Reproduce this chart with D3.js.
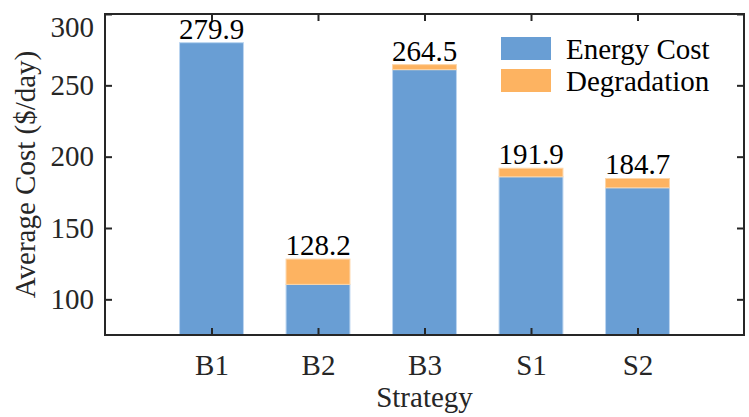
<!DOCTYPE html>
<meta charset="utf-8">
<style>
body { margin: 0; background: #fff; }
svg text { font-family: "Liberation Serif", "Times New Roman", serif; fill: #000; }
.axis path { display: none; }
.axis line { stroke: #262626; stroke-width: 2; }
.axis text { font-size: 29px; fill: #262626; }
</style>
<body>
<script src="https://d3js.org/d3.v7.min.js"></script>
<script>
// bar data
var strategies = ["B1", "B2", "B3", "S1", "S2"];
var energyCost = [279.9, 110.5, 261.0, 185.9, 178.2];
var degradation = [0.0, 17.7, 3.5, 6.0, 6.5];
var yTicks = [100, 150, 200, 250, 300];
var seriesNames = ["Energy Cost", "Degradation"];
var colors = ["#699ed4", "#fdb361"];

var margin = {top: 14, right: 5, bottom: 82, left: 105},
    width = 749 - margin.left - margin.right,
    height = 417 - margin.top - margin.bottom;

var svg = d3.select("body").append("svg")
    .attr("width", 749)
    .attr("height", 417)
  .append("g")
    .attr("transform", "translate(" + margin.left + "," + margin.top + ")");

var x = d3.scaleLinear()
    .domain([0, strategies.length + 1])
    .range([0, width]);

var y = d3.scaleLinear()
    .domain([75, 300])
    .range([height, 0]);

var barW = (x(1) - x(0)) * 0.6;

var data = strategies.map(function(s, i) {
  return {name: s, pos: i + 1, e: energyCost[i], d: degradation[i], total: energyCost[i] + degradation[i]};
});

// bars
var bars = svg.selectAll(".bar")
    .data(data)
  .enter().append("g")
    .attr("class", "bar");

bars.append("rect")
    .attr("x", function(d) { return x(d.pos) - barW / 2; })
    .attr("width", barW)
    .attr("y", function(d) { return y(d.e); })
    .attr("height", function(d) { return height - y(d.e); })
    .style("fill", colors[0])
    .style("stroke", "#bcd6f0")
    .style("stroke-width", 1);

bars.filter(function(d) { return d.d > 0; }).append("rect")
    .attr("x", function(d) { return x(d.pos) - barW / 2; })
    .attr("width", barW)
    .attr("y", function(d) { return y(d.total); })
    .attr("height", function(d) { return y(d.e) - y(d.total); })
    .style("fill", colors[1])
    .style("stroke", "#fdd6a8")
    .style("stroke-width", 1);

bars.append("text")
    .attr("x", function(d) { return x(d.pos); })
    .attr("y", function(d) { return y(d.total) - 4; })
    .attr("text-anchor", "middle")
    .style("font-size", "29px")
    .text(function(d) { return d.total.toFixed(1); });

// axes, ticks pointing inward on all four sides
var catTicks = data.map(function(d) { return d.pos; });

svg.append("g")
    .attr("class", "x axis")
    .attr("transform", "translate(0," + height + ")")
    .call(d3.axisBottom(x).tickValues(catTicks)
      .tickFormat(function(v) { return strategies[v - 1]; })
      .tickSizeInner(-7).tickSizeOuter(0).tickPadding(19));

svg.append("g")
    .attr("class", "x axis")
    .call(d3.axisTop(x).tickValues(catTicks).tickFormat("")
      .tickSizeInner(-7).tickSizeOuter(0));

var yAxisG = svg.append("g")
    .attr("class", "y axis")
    .call(d3.axisLeft(y).tickValues(yTicks)
      .tickSizeInner(-7).tickSizeOuter(0).tickPadding(11));

// top label sits a bit lower in the original
yAxisG.selectAll(".tick text")
    .filter(function(v) { return v === 300; })
    .attr("y", 13);

svg.append("g")
    .attr("class", "y axis")
    .attr("transform", "translate(" + width + ",0)")
    .call(d3.axisRight(y).tickValues(yTicks).tickFormat("")
      .tickSizeInner(-7).tickSizeOuter(0));

svg.append("rect")
    .attr("width", width)
    .attr("height", height)
    .style("fill", "none")
    .style("stroke", "#262626")
    .style("stroke-width", 2);

// axis labels
svg.append("text")
    .attr("x", width / 2)
    .attr("y", height + 72)
    .attr("text-anchor", "middle")
    .style("font-size", "29px")
    .style("fill", "#262626")
    .text("Strategy");

svg.append("text")
    .attr("transform", "rotate(-90)")
    .attr("x", -height / 2)
    .attr("y", 35 - margin.left)
    .attr("text-anchor", "middle")
    .style("font-size", "29px")
    .style("fill", "#262626")
    .text("Average Cost ($/day)");

// legend
var legend = svg.selectAll(".legend")
    .data(seriesNames)
  .enter().append("g")
    .attr("class", "legend")
    .attr("transform", function(d, i) { return "translate(396," + (23 + i * 32) + ")"; });

legend.append("rect")
    .attr("width", 50)
    .attr("height", 23)
    .style("fill", function(d, i) { return colors[i]; });

legend.append("text")
    .attr("x", 65)
    .attr("y", 22)
    .style("font-size", "29px")
    .text(function(d) { return d; });
</script>
